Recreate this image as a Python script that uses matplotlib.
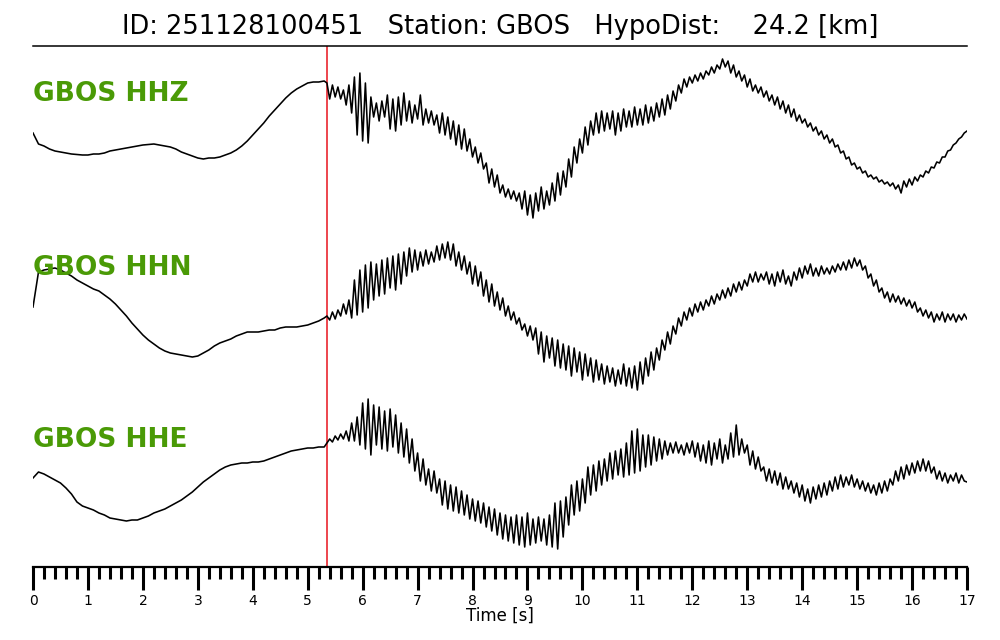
import numpy as np
import matplotlib
matplotlib.use("Agg")
import matplotlib.pyplot as plt
from matplotlib.ticker import MultipleLocator

# ---------------- data ----------------
event_id = "251128100451"
station = "GBOS"
hypodist_km = 24.2
channels = ["HHZ", "HHN", "HHE"]
p_pick = 5.35          # seconds
t_end = 17.0
dt_pre = 0.1
dt_post = 0.05

# traces before the pick (0.0 .. 5.3 s, every 0.1 s), arbitrary counts
hhz_pre = [2, -9, -11, -14, -16, -17, -18, -19, -19.5, -20,
           -20, -19, -19, -18, -16, -15, -14, -13, -12, -11,
           -10, -9.5, -9, -10, -11, -12, -14, -17, -19, -21,
           -23, -24, -23, -23, -22, -20, -18, -15, -11, -6,
           0, 6, 12, 19, 25, 31, 37, 42, 46, 49,
           52, 53, 53, 54]
hhn_pre = [3, 38, 40, 41, 42, 40, 37, 34, 30, 27,
           24, 21, 19, 15, 11, 6, 0, -6, -13, -19,
           -25, -30, -34, -38, -41, -43, -44, -45, -46, -47,
           -46, -43, -40, -36, -33, -31, -29, -26, -24, -22,
           -22, -22, -21, -20, -20, -18, -17, -17, -17, -16,
           -15, -13, -11, -8]
hhe_pre = [-3, 3, 1, -2, -5, -8, -13, -19, -27, -31,
           -33, -35, -38, -40, -43, -44, -45, -46, -45, -45,
           -43, -41, -38, -36, -34, -31, -28, -25, -21, -17,
           -12, -7, -3, 1, 5, 8, 10, 11, 12, 12,
           13, 13, 14, 16, 18, 20, 22, 24, 25, 26,
           27, 27, 28, 28]

# traces from the pick (5.35 .. 17.0 s, every 0.05 s)
hhz_post = [52, 36, 50, 38, 48, 36, 45, 30, 50, 22, 58, 0, 62, -6, 52, -8, 38, 18, 32, 14,
            34, 18, 40, 6, 36, 4, 38, 10, 42, 14, 34, 12, 30, 16, 40, 10, 26, 12, 24, 10,
            20, 2, 22, 0, 18, -4, 14, -10, 10, -14, 6, -16, -4, -22, -12, -28, -18, -34, -28, -48,
            -34, -52, -40, -58, -50, -62, -54, -64, -56, -66, -58, -74, -56, -80, -60, -83, -58, -76, -52, -74,
            -56, -70, -48, -66, -38, -60, -36, -52, -24, -42, -12, -28, -4, -18, 8, -10, 14, 0, 22, 2,
            24, 4, 22, 6, 24, 0, 22, 4, 26, 8, 24, 8, 28, 10, 26, 10, 30, 12, 28, 14,
            32, 18, 36, 20, 40, 26, 44, 34, 50, 42, 56, 48, 58, 52, 60, 54, 62, 56, 64, 60,
            68, 62, 70, 66, 76, 68, 74, 62, 70, 58, 64, 54, 60, 48, 56, 44, 50, 42, 48, 38,
            44, 34, 40, 30, 38, 26, 34, 22, 30, 18, 26, 14, 20, 12, 16, 8, 12, 4, 8, 0,
            4, -4, 0, -8, -4, -12, -10, -18, -16, -24, -22, -30, -28, -34, -32, -38, -36, -42, -40, -44,
            -42, -47, -45, -49, -47, -51, -48, -54, -50, -58, -46, -52, -44, -50, -42, -46, -40, -42, -36, -38,
            -32, -33, -27, -28, -22, -22, -16, -15, -10, -8, -4, -2, 2, 4]
hhn_post = [-6, -10, -2, -9, 0, -6, 6, -4, 10, -8, 30, -5, 40, -2, 45, 2, 48, 10, 46, 14,
            50, 16, 52, 22, 54, 20, 56, 26, 58, 34, 62, 38, 60, 40, 58, 44, 60, 46, 58, 48,
            64, 50, 66, 52, 68, 50, 66, 44, 58, 40, 54, 36, 48, 26, 44, 24, 38, 14, 30, 8,
            26, 4, 18, 0, 12, -6, 4, -10, -2, -14, -8, -20, -14, -26, -16, -30, -18, -44, -22, -52,
            -26, -48, -28, -56, -30, -58, -34, -60, -36, -66, -38, -62, -42, -70, -44, -66, -48, -72, -50, -70,
            -54, -74, -56, -72, -58, -76, -60, -74, -54, -76, -58, -78, -56, -80, -52, -74, -48, -66, -42, -60,
            -38, -50, -30, -40, -22, -34, -16, -24, -8, -16, -2, -10, 2, -6, 6, -2, 8, 0, 10, 4,
            14, 6, 16, 10, 20, 12, 22, 14, 26, 18, 28, 20, 30, 24, 36, 28, 38, 28, 36, 30,
            38, 26, 36, 24, 38, 28, 40, 26, 34, 24, 38, 30, 42, 32, 44, 36, 46, 34, 42, 34,
            44, 36, 42, 36, 44, 38, 46, 40, 48, 40, 50, 42, 52, 44, 50, 40, 44, 32, 36, 24,
            30, 18, 22, 12, 18, 8, 16, 8, 14, 6, 12, 4, 10, 2, 8, -2, 2, -6, 0, -8,
            -2, -12, -4, -10, -2, -12, -4, -10, -4, -12, -5, -10, -4, -9]
hhe_post = [32, 36, 33, 39, 35, 41, 36, 44, 34, 52, 34, 58, 30, 72, 26, 76, 20, 70, 30, 68,
            26, 64, 24, 66, 28, 60, 22, 52, 18, 46, 12, 36, 4, 22, -6, 16, -10, 6, -16, 4,
            -18, -4, -30, -6, -34, -10, -36, -12, -38, -16, -40, -20, -44, -24, -46, -26, -48, -28, -52, -32,
            -56, -34, -60, -38, -64, -40, -66, -42, -68, -40, -70, -42, -72, -38, -70, -44, -68, -42, -66, -44,
            -70, -40, -72, -28, -74, -26, -62, -22, -50, -10, -40, -6, -36, -4, -28, 8, -20, 10, -16, 14,
            -10, 16, -6, 22, -4, 24, 0, 26, -2, 32, 0, 44, 2, 46, 4, 40, 8, 40, 10, 38,
            14, 36, 16, 34, 20, 32, 22, 33, 22, 30, 20, 32, 22, 34, 18, 32, 14, 30, 12, 34,
            10, 32, 16, 36, 12, 30, 16, 42, 18, 50, 20, 36, 22, 30, 10, 24, 6, 18, 4, 8,
            -6, 6, -8, 4, -10, 2, -14, -2, -14, -6, -18, -8, -22, -10, -26, -14, -28, -12, -24, -10,
            -22, -8, -20, -6, -16, -2, -14, 0, -12, -2, -10, 0, -12, -4, -14, -6, -16, -8, -18, -10,
            -20, -8, -18, -6, -16, -4, -10, 4, -6, 8, -4, 10, 0, 12, 2, 14, 4, 16, 4, 14,
            2, 8, -4, 4, -6, 2, -8, 0, -6, 2, -8, 0, -6, -7]

n_post = int(round((t_end - p_pick) / dt_post)) + 1
for name, arr in [("hhz", hhz_post), ("hhn", hhn_post), ("hhe", hhe_post)]:
    assert len(arr) == n_post, f"{name} post length {len(arr)} != {n_post}"

t_pre = dt_pre * np.arange(len(hhz_pre))
t_post = p_pick + dt_post * np.arange(n_post)
time = np.concatenate([t_pre, t_post])
traces = {
    "HHZ": np.concatenate([hhz_pre, hhz_post]),
    "HHN": np.concatenate([hhn_pre, hhn_post]),
    "HHE": np.concatenate([hhe_pre, hhe_post]),
}

# ---------------- layout ----------------
W, H = 1000, 640
fig = plt.figure(figsize=(W / 100, H / 100), dpi=100)
ax = fig.add_axes([33 / W, 1 - 567 / H, (967 - 33) / W, (567 - 46) / H])
ax.set_xlim(0, t_end)
ax.set_ylim(-567, -46)

trace_offsets = {"HHZ": -135, "HHN": -310, "HHE": -475}
label_baselines = {"HHZ": -101, "HHN": -275, "HHE": -447}
green = "#4a9a06"

for ch in channels:
    ax.plot(time, traces[ch] + trace_offsets[ch], color="black", lw=1.15)
    ax.text(0.0, label_baselines[ch], f"{station} {ch}", color=green,
            fontsize=19, fontweight="bold", ha="left", va="baseline")

ax.axvline(p_pick, color="#e8141c", lw=1.1, zorder=0)

for s in ("left", "right"):
    ax.spines[s].set_visible(False)
ax.spines["top"].set_linewidth(1.1)
ax.spines["bottom"].set_linewidth(1.6)
ax.set_yticks([])
ax.xaxis.set_major_locator(MultipleLocator(1))
ax.xaxis.set_minor_locator(MultipleLocator(0.2))
ax.tick_params(axis="x", which="major", length=16.5, width=2.2, labelsize=10, pad=3)
ax.tick_params(axis="x", which="minor", length=8.5, width=2.2)
ax.set_xlabel("Time [s]", fontsize=12, labelpad=-1)

fig.text(0.5, 1 - 27 / H,
         f"ID: {event_id}   Station: {station}   HypoDist:    {hypodist_km:.1f} [km]",
         fontsize=18.5, ha="center", va="center")

fig.savefig("out.png", dpi=100)
